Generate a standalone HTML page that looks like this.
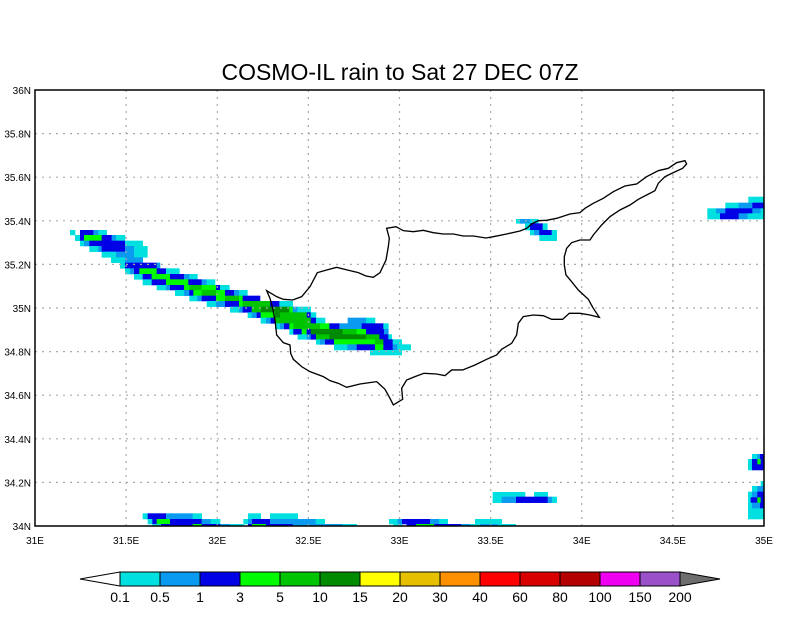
<!DOCTYPE html>
<html><head><meta charset="utf-8"><style>
body{margin:0;background:#fff;width:800px;height:618px;overflow:hidden}
svg{display:block;font-family:"Liberation Sans",sans-serif}
</style></head><body>
<svg id="s" width="800" height="618" xmlns="http://www.w3.org/2000/svg">
<text x="400" y="80" font-size="23" text-anchor="middle" fill="#000">COSMO-IL rain to Sat 27 DEC 07Z</text>
<g id="rain"></g>
<g id="grid" stroke="#aaa" stroke-width="1.2" stroke-dasharray="2,5"></g>
<path transform="translate(260,150) scale(0.3333)" fill="none" stroke="#000" stroke-width="4" d="M20,422 L50,440 70,448 98,450 125,440 150,410 172,368 200,360 230,352 262,360 295,368 318,378 340,382 360,368 378,330 385,290 388,265 380,235 408,230 430,242 460,245 490,241 520,248 550,252 580,252 610,258 640,258 678,264 700,260 740,252 780,243 800,235 815,222 835,212 860,211 890,205 930,192 960,188 975,175 1000,160 1030,145 1060,125 1095,108 1130,102 1160,80 1195,62 1225,55 1250,38 1275,32 1280,42 1268,55 1240,68 1215,80 1195,100 1185,122 1160,135 1135,148 1110,165 1080,180 1050,200 1025,225 1000,255 990,270 960,270 935,278 920,295 913,320 913,345 918,375 935,395 955,420 985,448 1000,475 1018,502 990,495 960,490 928,490 908,508 875,508 850,497 820,495 790,500 775,520 770,555 755,580 725,598 710,615 680,628 645,645 608,660 575,660 555,677 530,672 492,670 465,680 440,690 425,715 428,748 400,765 390,745 375,718 350,695 300,702 260,712 235,700 210,692 190,680 150,665 125,650 100,628 92,610 90,585 70,578 50,555 45,510 38,475 30,445 Z"/>
<rect x="35" y="90" width="729" height="436" fill="none" stroke="#000" stroke-width="1.5"/>
<g id="lab" font-size="10" fill="#000"></g>
<g id="cb"></g>
</svg>
<script>
var C={a:"#00e0e0",b:"#0a9af0",c:"#0000e6",d:"#00fa00",e:"#00c400",f:"#008a00"};
var rain=document.getElementById("rain"),ns="http://www.w3.org/2000/svg";
function R(x,y,w,h,f,p){var r=document.createElementNS(ns,"rect");r.setAttribute("x",x);r.setAttribute("y",y);r.setAttribute("width",w);r.setAttribute("height",h);r.setAttribute("fill",f);(p||rain).appendChild(r);}
function G(ox,oy,s,rows){rows.forEach(function(r){for(var i=2;i<r.length;i+=3){R(ox+r[i]/s,oy+r[0]/s,(r[i+1]-r[i])/s+0.3,(r[1]-r[0])/s+0.3,C[r[i+2]]);}});}
G(60,220,3,[
[30,45,30,45,"a",60,100,"c",100,115,"b",115,140,"a"],
[45,62,45,60,"a",60,72,"c",72,125,"d",125,155,"c",155,168,"b",168,195,"a"],
[62,78,60,72,"a",72,88,"b",88,195,"c",195,248,"a"],
[78,95,88,115,"a",115,125,"b",125,195,"c",195,222,"b",222,262,"a"],
[95,112,125,168,"a",168,222,"b",222,262,"a"],
[112,128,153,195,"a",195,248,"b"],
[128,145,180,195,"a",195,290,"c",290,300,"b"],
[145,162,195,210,"a",210,222,"b",222,238,"c",238,290,"d",290,318,"c",318,358,"a"],
[162,178,222,248,"a",248,275,"c",275,330,"d",330,372,"c",372,388,"b",388,412,"a"],
[178,195,248,275,"a",275,318,"c",318,385,"d",385,425,"c",425,440,"b",440,465,"a"],
[195,210,290,318,"a",318,330,"b",330,372,"c",372,388,"d",388,425,"e",425,468,"d",468,480,"c",480,508,"a"],
[210,227,345,372,"a",372,388,"b",388,400,"c",400,425,"d",425,468,"e",468,495,"d",495,522,"c",522,537,"b",537,562,"a"],
[227,243,388,412,"a",412,425,"b",425,468,"c",468,495,"d",495,537,"e",537,548,"d",548,600,"c"],
[243,260,440,468,"a",468,495,"b",495,537,"c",537,548,"d",548,630,"e",630,658,"c",658,698,"a"],
[260,277,510,537,"a",537,548,"b",548,575,"c",575,602,"e",602,688,"f",688,698,"d",698,712,"b",712,752,"a"],
[277,293,563,575,"a",575,590,"b",590,602,"c",602,645,"d",645,660,"f",660,740,"e",740,752,"c",752,768,"a"],
[293,310,602,618,"a",618,632,"b",632,645,"c",645,752,"e",752,768,"c",768,795,"a",863,918,"b",918,945,"a"],
[310,327,645,660,"a",660,672,"b",672,688,"c",688,700,"d",700,780,"e",780,808,"d",808,838,"c",838,905,"b",905,970,"c",970,985,"a"],
[327,343,688,700,"a",700,725,"c",725,740,"d",740,752,"c",752,848,"f",848,890,"e",890,918,"d",918,972,"c",972,985,"b"],
[343,358,713,740,"a",740,752,"b",752,768,"c",768,808,"e",808,918,"f",918,958,"e",958,985,"c",985,995,"a"],
[358,373,768,780,"a",780,795,"b",795,822,"c",822,945,"d",945,970,"e",970,998,"c",998,1025,"a"],
[373,390,822,862,"a",862,890,"b",890,945,"c",945,970,"d",970,998,"c",998,1012,"b",1012,1052,"a"],
[390,405,930,1025,"a"]]);
G(130,480,3,[
[36,50,1088,1185,"a",1212,1253,"a"],
[50,68,1088,1115,"a",1115,1158,"b",1158,1253,"c",1253,1266,"b",1266,1280,"a"],
[100,117,38,53,"a",53,108,"c",108,188,"b",188,215,"a",354,392,"a",420,503,"a"],
[117,132,53,67,"a",67,80,"c",80,120,"d",120,215,"c",215,242,"b",242,270,"a",340,354,"a",354,366,"b",366,420,"c",420,557,"b",557,584,"a",777,803,"a",803,816,"b",816,900,"c",900,927,"b",927,953,"a",1035,1115,"a"],
[132,138,67,93,"a",93,188,"c",188,215,"d",215,270,"c",270,300,"b",300,340,"a",354,366,"c",366,408,"d",408,488,"c",488,638,"b",638,680,"a",790,816,"a",830,858,"c",858,912,"d",912,993,"c",993,1020,"b",1020,1050,"a",1050,1103,"b",1103,1157,"a"]]);
G(260,150,3,[
[207,220,768,780,"a",780,810,"b",810,835,"a"],
[220,240,795,810,"a",810,848,"c",848,862,"a"],
[240,255,810,822,"a",822,838,"b",838,875,"c",875,890,"a"],
[255,272,838,890,"a"]]);
G(500,190,3,[
[20,38,745,792,"a"],
[38,55,676,716,"a",716,757,"b",757,792,"c"],
[55,70,622,648,"a",648,676,"b",676,757,"c",757,782,"b",782,792,"a"],
[70,87,622,660,"a",660,716,"c",716,743,"b",743,792,"a"]]);
G(730,440,3,[
[42,57,66,82,"a",82,90,"b",90,102,"c"],
[57,73,54,66,"a",66,82,"c",82,92,"d",92,102,"c"],
[73,90,54,66,"a",66,102,"c"],
[123,138,92,102,"a"],
[138,155,66,82,"a",82,102,"b"],
[155,172,54,66,"a",66,82,"b",82,102,"c"],
[172,188,54,62,"a",62,82,"c",82,92,"d",92,102,"c"],
[188,205,54,66,"a",66,90,"b",90,102,"c"],
[205,237,54,102,"a"]]);
var g=document.getElementById("grid"),lab=document.getElementById("lab");
function L(x1,y1,x2,y2,p,st){var l=document.createElementNS(ns,"line");l.setAttribute("x1",x1);l.setAttribute("y1",y1);l.setAttribute("x2",x2);l.setAttribute("y2",y2);if(st)l.setAttribute("stroke",st);p.appendChild(l);}
function T(x,y,t,a){var e=document.createElementNS(ns,"text");e.setAttribute("x",x);e.setAttribute("y",y);e.setAttribute("text-anchor",a);e.textContent=t;lab.appendChild(e);}
var xl=["31E","31.5E","32E","32.5E","33E","33.5E","34E","34.5E","35E"];
for(var k=0;k<9;k++){var x=35+729*k/8;if(k>0&&k<8)L(x,90,x,526,g);T(x,544,xl[k],"middle");}
var yl=["34N","34.2N","34.4N","34.6N","34.8N","35N","35.2N","35.4N","35.6N","35.8N","36N"];
for(var k=0;k<11;k++){var y=526-43.6*k;if(k>0&&k<10)L(35,y,764,y,g);T(31,y+4,yl[k],"end");}
var cb=document.getElementById("cb");
var cc=["#00e0e0","#0a9af0","#0000e6","#00fa00","#00c400","#008a00","#ffff00","#e6c000","#ff9000","#ff0000","#d80000","#b40000","#f000f0","#9a50c8"];
cc.forEach(function(c,i){R(120+40*i,572,40,14,c,cb);});
var p=document.createElementNS(ns,"path");p.setAttribute("d","M120,572 L80,579 L120,586 Z");p.setAttribute("fill","#fff");p.setAttribute("stroke","#000");cb.appendChild(p);
p=document.createElementNS(ns,"path");p.setAttribute("d","M680,572 L720,579 L680,586 Z");p.setAttribute("fill","#6e6e6e");p.setAttribute("stroke","#000");cb.appendChild(p);
for(var i=0;i<=14;i++)L(120+40*i,572,120+40*i,586,cb,"#000");
L(120,572,680,572,cb,"#000");L(120,586,680,586,cb,"#000");
var vl=["0.1","0.5","1","3","5","10","15","20","30","40","60","80","100","150","200"];
vl.forEach(function(v,i){var e=document.createElementNS(ns,"text");e.setAttribute("x",120+40*i);e.setAttribute("y",602);e.setAttribute("text-anchor","middle");e.setAttribute("font-size","14");e.textContent=v;cb.appendChild(e);});
</script>
</body></html>
